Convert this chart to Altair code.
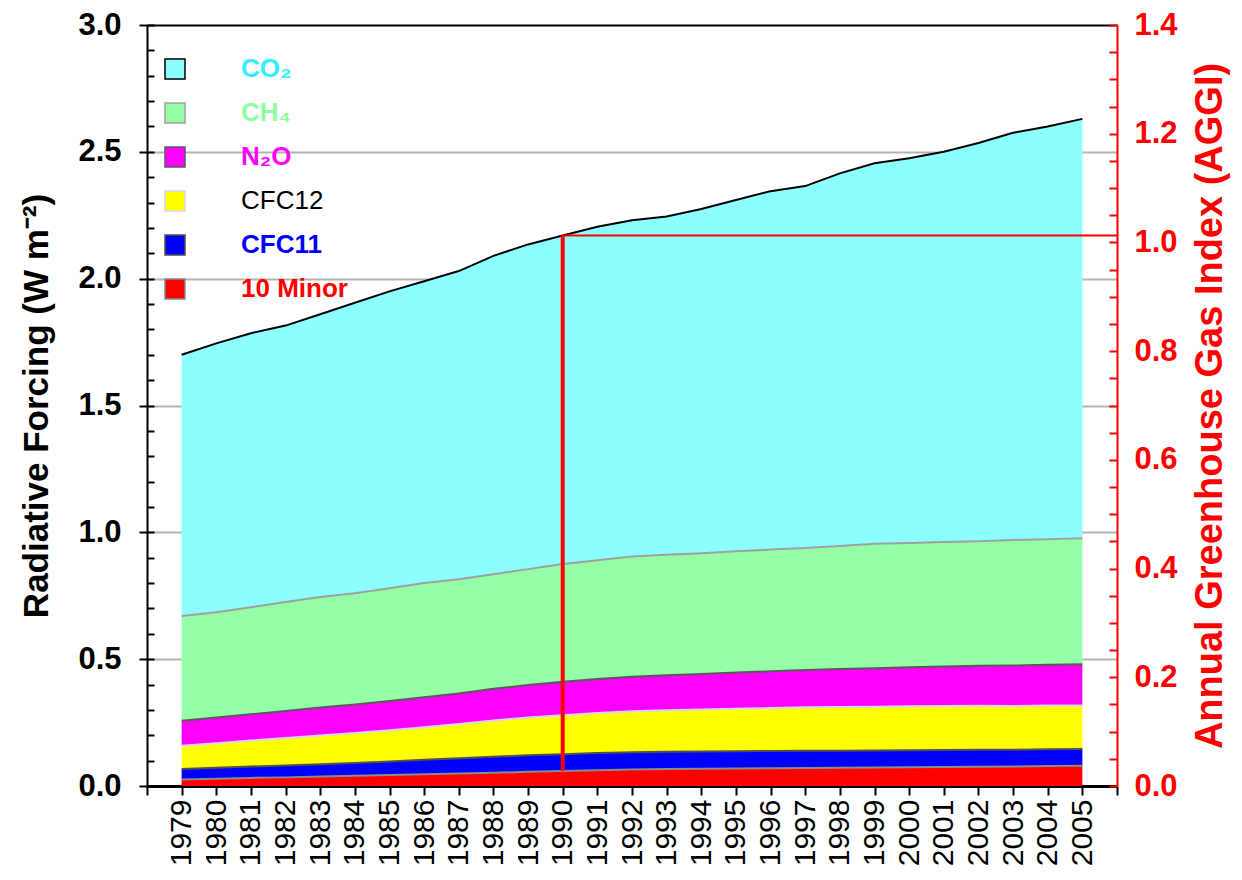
import altair as alt
import pandas as pd

# ---------------- data ----------------
years = list(range(1979, 2006))

co2 = [1.030, 1.060, 1.080, 1.090, 1.115, 1.145, 1.170, 1.190, 1.215, 1.255,
       1.280, 1.295, 1.315, 1.325, 1.333, 1.357, 1.385, 1.413, 1.427, 1.469,
       1.500, 1.517, 1.538, 1.570, 1.605, 1.627, 1.653]
ch4 = [0.413, 0.415, 0.422, 0.429, 0.436, 0.439, 0.445, 0.450, 0.450, 0.452,
       0.457, 0.464, 0.468, 0.474, 0.475, 0.476, 0.478, 0.480, 0.481, 0.485,
       0.491, 0.490, 0.491, 0.491, 0.495, 0.495, 0.497]
n2o = [0.098, 0.101, 0.104, 0.107, 0.110, 0.112, 0.115, 0.118, 0.121, 0.125,
       0.128, 0.132, 0.134, 0.136, 0.138, 0.140, 0.142, 0.145, 0.147, 0.150,
       0.152, 0.154, 0.156, 0.158, 0.160, 0.161, 0.163]
cfc12 = [0.092, 0.097, 0.102, 0.108, 0.113, 0.118, 0.123, 0.129, 0.135, 0.143,
         0.149, 0.154, 0.158, 0.162, 0.164, 0.166, 0.168, 0.169, 0.171, 0.172,
         0.172, 0.173, 0.173, 0.173, 0.172, 0.172, 0.171]
cfc11 = [0.041, 0.043, 0.045, 0.047, 0.049, 0.051, 0.054, 0.057, 0.060, 0.063,
         0.065, 0.066, 0.068, 0.068, 0.068, 0.068, 0.068, 0.068, 0.068, 0.067,
         0.067, 0.067, 0.067, 0.067, 0.066, 0.066, 0.066]
minor = [0.026, 0.029, 0.032, 0.034, 0.037, 0.040, 0.043, 0.046, 0.049, 0.052,
         0.056, 0.059, 0.062, 0.065, 0.067, 0.068, 0.069, 0.070, 0.071, 0.072,
         0.073, 0.074, 0.075, 0.076, 0.077, 0.079, 0.080]

gases = ["CO₂", "CH₄", "N₂O", "CFC12", "CFC11", "10 Minor"]
series = [co2, ch4, n2o, cfc12, cfc11, minor]
stack_rank = [5, 4, 3, 2, 1, 0]          # 0 = bottom of the stack

fill_colors = ["#8CFFFF", "#94FFA6", "#FF00FF", "#FFFF00", "#0000FF", "#FF0000"]
edge_colors = ["#000000", "#A0A0A0", "#5A5A5A", "#D8D4EC", "#505050", "#8C8C8C"]
label_colors = ["#30F0FF", "#90FFA0", "#FF00FF", "#000000", "#0000FF", "#FF0000"]
label_weights = ["bold", "bold", "bold", "normal", "bold", "bold"]

ref_year = 1990
left_ticks = [0.0, 0.5, 1.0, 1.5, 2.0, 2.5, 3.0]
left_minor = [i / 10 for i in range(31)]
right_ticks = [0.0, 0.2, 0.4, 0.6, 0.8, 1.0, 1.2, 1.4]
right_minor = [i / 20 for i in range(29)]
left_domain = [0, 3.0]
aggi_domain = [0, 1.4]
x_domain = [years[0] - 1, years[-1] + 1]
x_ticks = list(range(x_domain[0], x_domain[1] + 1))

# ---------------- tables ----------------
rows = []
for g, vals, r in zip(gases, series, stack_rank):
    for yr, v in zip(years, vals):
        rows.append({"year": yr, "gas": g, "forcing": v, "rank": r})
df = pd.DataFrame(rows)

totals = [sum(s[i] for s in series) for i in range(len(years))]
i_ref = years.index(ref_year)
total_ref = totals[i_ref]
aggi_df = pd.DataFrame({"year": years, "aggi": [t / total_ref for t in totals]})
vline = pd.DataFrame([{"year": ref_year, "lo": minor[i_ref], "hi": total_ref}])
hline = pd.DataFrame([{"year": ref_year, "end": x_domain[1], "level": total_ref}])

FONT = "Liberation Sans"


def ternary(values, default):
    expr = f"'{default}'"
    for g, v in reversed(list(zip(gases, values))):
        expr = f"datum.value == '{g}' ? '{v}' : " + expr
    return expr


x_enc = alt.X(
    "year:Q",
    scale=alt.Scale(domain=x_domain, nice=False, zero=False),
    axis=alt.Axis(
        values=x_ticks, title=None, grid=False,
        labelExpr="datum.value < 1979 || datum.value > 2005 ? '' : toString(datum.value)",
        labelAngle=270, labelFontSize=30, labelFont=FONT, labelColor="black",
        labelPadding=4, tickSize=9, tickWidth=2, tickColor="black",
        domainColor="black", domainWidth=3, labelOverlap=False, labelBound=False,
    ),
)

left_scale = alt.Scale(domain=left_domain, nice=False, zero=True)
aggi_scale = alt.Scale(domain=aggi_domain, nice=False, zero=True)

area = alt.Chart(df).mark_area(interpolate="linear", opacity=1).encode(
    x=x_enc,
    y=alt.Y(
        "forcing:Q", stack="zero", scale=left_scale,
        axis=alt.Axis(
            orient="left", values=left_ticks, format=".1f",
            labelFontSize=31, labelFontWeight="bold", labelFont=FONT, labelColor="black",
            labelPadding=18, tickSize=8, tickWidth=2, tickColor="black",
            domainColor="black", domainWidth=2,
            grid=True, gridWidth=2,
            gridColor={"condition": {"test": "datum.value >= 3", "value": "#000000"},
                       "value": "#B4B4AC"},
            title="Radiative Forcing (W m⁻²)", titleFontSize=35, titleFontWeight="bold",
            titleFont=FONT, titleColor="black", titlePadding=23,
        ),
    ),
    order=alt.Order("rank:Q", sort="ascending"),
    fill=alt.Fill(
        "gas:N",
        scale=alt.Scale(domain=gases, range=fill_colors),
        legend=alt.Legend(
            orient="none", legendX=15, legendY=31, title=None,
            symbolType="square", symbolSize=400, symbolStrokeColor="black",
            symbolStrokeWidth=1.5, symbolOpacity=1,
            labelFont=FONT, labelFontSize=26, labelOffset=53, rowPadding=18,
            labelColor={"expr": ternary(label_colors, "#000000")},
            labelFontWeight={"expr": ternary(label_weights, "bold")},
            labelLimit=400,
        ),
    ),
)

edges = alt.Chart(df).mark_line(interpolate="linear", strokeWidth=2).encode(
    x=x_enc,
    y=alt.Y(
        "forcing:Q", stack="zero", scale=left_scale,
        axis=alt.Axis(
            orient="left", values=left_minor, labels=False, domain=False,
            ticks=True, tickSize=7, tickWidth=2, tickColor="black",
            offset=-7, grid=False, title=None,
        ),
    ),
    order=alt.Order("rank:Q", sort="ascending"),
    stroke=alt.Stroke("gas:N", scale=alt.Scale(domain=gases, range=edge_colors), legend=None),
)

vrule = alt.Chart(vline).mark_rule(color="#FF0000", strokeWidth=4).encode(
    x=x_enc,
    y=alt.Y("lo:Q", scale=left_scale, axis=None),
    y2="hi:Q",
)

hrule = alt.Chart(hline).mark_rule(color="#FF0000", strokeWidth=2).encode(
    x=x_enc,
    x2="end:Q",
    y=alt.Y("level:Q", scale=left_scale, axis=None),
)

aggi_axis = alt.Chart(aggi_df).mark_line(strokeOpacity=0).encode(
    x=x_enc,
    y=alt.Y(
        "aggi:Q", scale=aggi_scale,
        axis=alt.Axis(
            orient="right", values=right_ticks, format=".1f",
            labelFontSize=31, labelFontWeight="bold", labelFont=FONT, labelColor="#FF0000",
            labelPadding=17, ticks=False, domainColor="#FF0000", domainWidth=2,
            grid=False,
            title="Annual Greenhouse Gas Index (AGGI)", titleFontSize=38,
            titleFontWeight="bold", titleFont=FONT, titleColor="#FF0000",
            titlePadding=14, titleAngle=270, titleBaseline="top",
        ),
    ),
)

aggi_ticks = alt.Chart(aggi_df).mark_line(strokeOpacity=0).encode(
    x=x_enc,
    y=alt.Y(
        "aggi:Q", scale=aggi_scale,
        axis=alt.Axis(
            orient="right", values=right_minor, labels=False, domain=False,
            ticks=True, tickSize=8, tickWidth=2, tickColor="#FF0000",
            offset=-8, grid=False, title=None,
        ),
    ),
)

chart = (
    alt.layer(area, edges, vrule, hrule, aggi_axis, aggi_ticks)
    .resolve_scale(y="independent")
    .properties(
        width=970, height=761,
        autosize=alt.AutoSizeParams(type="none"),
        padding={"left": 139, "top": 17, "right": 117, "bottom": 86},
    )
    .configure_view(stroke=None)
    .configure(font=FONT, background="white")
)

chart.save("out.html", embed_options={"renderer": "svg", "actions": False})
